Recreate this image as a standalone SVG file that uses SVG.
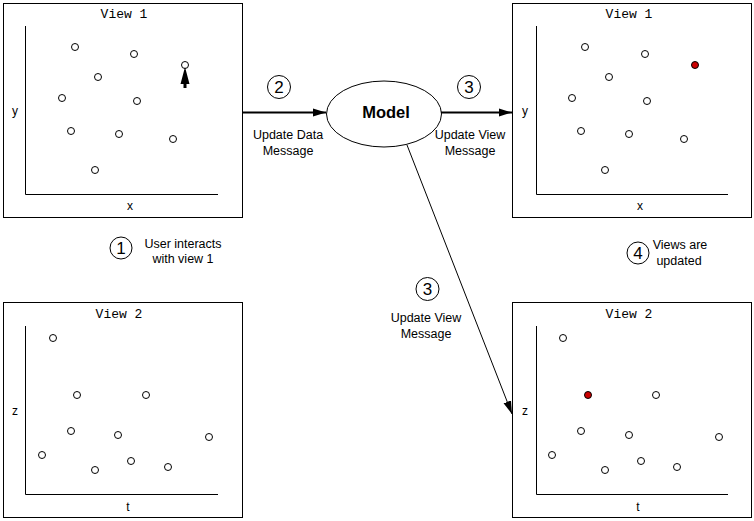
<svg xmlns="http://www.w3.org/2000/svg" width="754" height="521" viewBox="0 0 754 521">
<style>
.box{fill:#fff;stroke:#000;stroke-width:1}
.ax{fill:none;stroke:#000;stroke-width:1}
.pt{fill:#fff;stroke:#000;stroke-width:1}
.red{fill:#cc0000;stroke:#000;stroke-width:1}
.title{font-family:"Liberation Mono",monospace;font-size:13px;fill:#000;text-anchor:middle}
.axl{font-family:"Liberation Sans",Arial,sans-serif;font-size:12px;fill:#000;text-anchor:middle}
.lbl{font-family:"Liberation Sans",Arial,sans-serif;font-size:12.5px;fill:#000;text-anchor:middle}
.num{font-family:"Liberation Sans",Arial,sans-serif;font-size:17px;fill:#000;text-anchor:middle}
.nc{fill:#fff;stroke:#000;stroke-width:1}
.conn{fill:none;stroke:#000}
</style>
<defs>
<marker id="ahThick" markerUnits="userSpaceOnUse" markerWidth="14" markerHeight="10" refX="13" refY="4.5" orient="auto">
<path d="M0,0.5 L13,4.5 L0,8.5 Z" fill="#000"/>
</marker>
<marker id="ahThin" markerUnits="userSpaceOnUse" markerWidth="14" markerHeight="10" refX="13" refY="4.5" orient="auto">
<path d="M0,0.5 L13,4.5 L0,8.5 Z" fill="#000"/>
</marker>
</defs>

<g id="view1-left">
<rect class="box" x="3.5" y="3.5" width="239" height="214"/>
<text class="title" x="124" y="18">View 1</text>
<path class="ax" d="M25.5,26 V194.5 H218"/>
<text class="axl" x="15" y="115">y</text>
<text class="axl" x="130" y="210">x</text>
<circle class="pt" cx="75" cy="47" r="3.5"/>
<circle class="pt" cx="134" cy="54" r="3.5"/>
<circle class="pt" cx="98" cy="77" r="3.5"/>
<circle class="pt" cx="185" cy="65" r="3.5"/>
<circle class="pt" cx="62" cy="98" r="3.5"/>
<circle class="pt" cx="137" cy="101" r="3.5"/>
<circle class="pt" cx="71" cy="131" r="3.5"/>
<circle class="pt" cx="119" cy="134" r="3.5"/>
<circle class="pt" cx="173" cy="139" r="3.5"/>
<circle class="pt" cx="95" cy="170" r="3.5"/>
<path d="M185,67 L189.5,84 L186.5,84 L186.5,88 L183.5,88 L183.5,84 L180.5,84 Z" fill="#000"/>
</g>

<g id="view2-left">
<rect class="box" x="3.5" y="302.5" width="239" height="215"/>
<text class="title" x="119" y="318">View 2</text>
<path class="ax" d="M25.5,326 V494.5 H218"/>
<text class="axl" x="15" y="415">z</text>
<text class="axl" x="128" y="511">t</text>
<circle class="pt" cx="53" cy="338" r="3.5"/>
<circle class="pt" cx="77" cy="395" r="3.5"/>
<circle class="pt" cx="146" cy="395" r="3.5"/>
<circle class="pt" cx="71" cy="431" r="3.5"/>
<circle class="pt" cx="118" cy="435" r="3.5"/>
<circle class="pt" cx="209" cy="437" r="3.5"/>
<circle class="pt" cx="42" cy="455" r="3.5"/>
<circle class="pt" cx="131" cy="461" r="3.5"/>
<circle class="pt" cx="95" cy="470" r="3.5"/>
<circle class="pt" cx="168" cy="467" r="3.5"/>
</g>

<g id="view1-right">
<rect class="box" x="512.5" y="3.5" width="239" height="214"/>
<text class="title" x="629" y="18">View 1</text>
<path class="ax" d="M536.5,26 V194.5 H728"/>
<text class="axl" x="525" y="115">y</text>
<text class="axl" x="640" y="210">x</text>
<circle class="pt" cx="585" cy="47" r="3.5"/>
<circle class="pt" cx="645" cy="54" r="3.5"/>
<circle class="pt" cx="609" cy="77" r="3.5"/>
<circle class="red" cx="695" cy="65" r="3.5"/>
<circle class="pt" cx="572" cy="98" r="3.5"/>
<circle class="pt" cx="647" cy="101" r="3.5"/>
<circle class="pt" cx="581" cy="131" r="3.5"/>
<circle class="pt" cx="629" cy="134" r="3.5"/>
<circle class="pt" cx="684" cy="139" r="3.5"/>
<circle class="pt" cx="605" cy="170" r="3.5"/>
</g>

<g id="view2-right">
<rect class="box" x="512.5" y="302.5" width="239" height="215"/>
<text class="title" x="629" y="318">View 2</text>
<path class="ax" d="M536.5,326 V494.5 H728"/>
<text class="axl" x="525" y="415">z</text>
<text class="axl" x="638" y="511">t</text>
<circle class="pt" cx="563" cy="338" r="3.5"/>
<circle class="red" cx="588" cy="395" r="3.5"/>
<circle class="pt" cx="656" cy="395" r="3.5"/>
<circle class="pt" cx="581" cy="431" r="3.5"/>
<circle class="pt" cx="629" cy="435" r="3.5"/>
<circle class="pt" cx="719" cy="437" r="3.5"/>
<circle class="pt" cx="552" cy="455" r="3.5"/>
<circle class="pt" cx="641" cy="461" r="3.5"/>
<circle class="pt" cx="605" cy="470" r="3.5"/>
<circle class="pt" cx="677" cy="467" r="3.5"/>
</g>

<g id="model">
<ellipse cx="384" cy="114" rx="57.5" ry="33" fill="#fff" stroke="#000" stroke-width="1"/>
<text x="386" y="118" font-family="'Liberation Sans',Arial,sans-serif" font-size="16.5px" font-weight="bold" text-anchor="middle">Model</text>
</g>

<g id="connectors">
<line class="conn" stroke-width="2" x1="243" y1="112.5" x2="326" y2="112.5" marker-end="url(#ahThick)"/>
<line class="conn" stroke-width="2" x1="441" y1="112.5" x2="512" y2="112.5" marker-end="url(#ahThick)"/>
<line class="conn" stroke-width="1" x1="407" y1="145" x2="512" y2="414" marker-end="url(#ahThin)"/>
</g>

<g id="label-2">
<circle class="nc" cx="279" cy="87" r="11.5"/>
<text class="num" x="279" y="93">2</text>
<text class="lbl" x="288" y="139">Update Data</text>
<text class="lbl" x="288" y="155">Message</text>
</g>

<g id="label-3a">
<circle class="nc" cx="469" cy="87" r="11.5"/>
<text class="num" x="469" y="93">3</text>
<text class="lbl" x="470" y="139">Update View</text>
<text class="lbl" x="470" y="155">Message</text>
</g>

<g id="label-3b">
<circle class="nc" cx="427.5" cy="289" r="11.5"/>
<text class="num" x="427.5" y="295">3</text>
<text class="lbl" x="426" y="322">Update View</text>
<text class="lbl" x="426" y="338">Message</text>
</g>

<g id="label-1">
<circle class="nc" cx="121" cy="248" r="11"/>
<text class="num" x="121" y="254">1</text>
<text class="lbl" x="183" y="248">User interacts</text>
<text class="lbl" x="183" y="263">with view 1</text>
</g>

<g id="label-4">
<circle class="nc" cx="638" cy="253" r="11"/>
<text class="num" x="638" y="259">4</text>
<text class="lbl" x="680" y="249">Views are</text>
<text class="lbl" x="679" y="265">updated</text>
</g>
</svg>
